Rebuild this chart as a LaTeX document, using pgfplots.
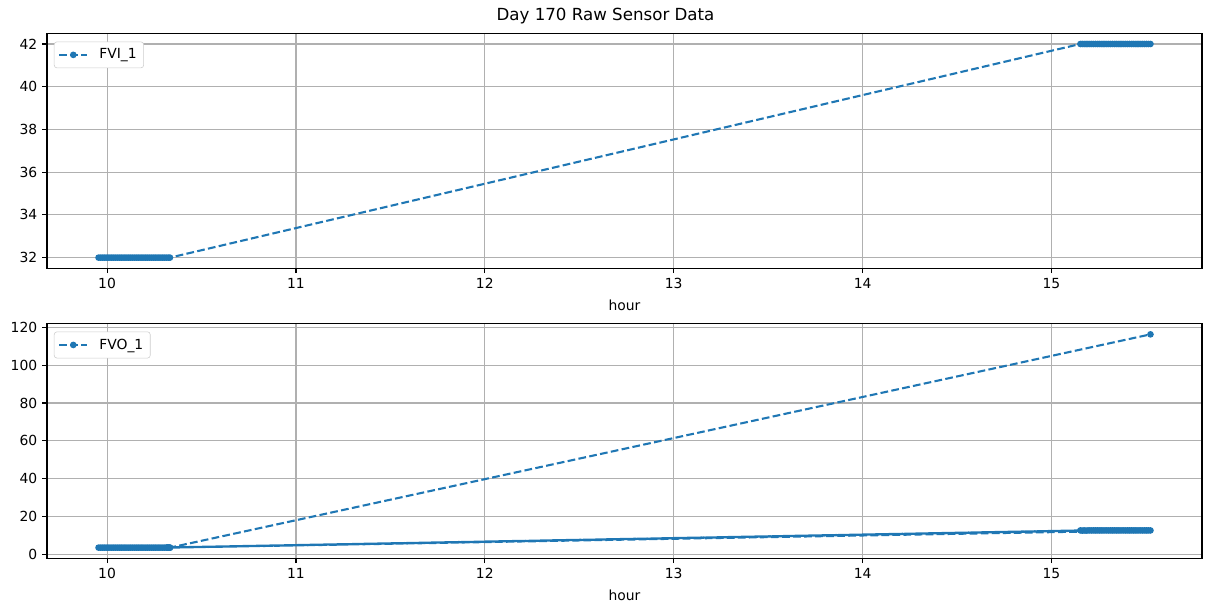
\documentclass[border=0pt]{standalone}
\usepackage{fontspec}
\setmainfont{DejaVu Sans}
\usepackage{pgfplots}
\pgfplotsset{compat=1.18}
\definecolor{mplblue}{HTML}{1F77B4}
\pgfplotsset{
  mystyle/.style={
    scale only axis, width=831.6pt, height=169.2pt,
    xmin=9.682, xmax=15.797,
    xtick={10,11,12,13,14,15},
    grid=major, grid style={color=black!31, line width=0.8pt},
    axis line style={line width=0.8pt},
    tick style={black, line width=0.8pt}, tick align=outside, major tick length=3.5pt,
    xtick pos=lower, ytick pos=left,
    tick label style={font=\fontsize{10}{12}\selectfont},
    /pgf/number format/assume math mode=true,
    xlabel={hour}, xlabel style={font=\fontsize{10}{12}\selectfont, yshift=-1pt},
    legend cell align=left,
    legend style={at={(0.006,0.965)}, anchor=north west, draw=black!20, rounded corners=2pt,
      font=\fontsize{10}{12}\selectfont, inner xsep=3pt, inner ysep=3pt},
    legend image code/.code={
      \draw[mark repeat=2, mark phase=2] plot coordinates {(0pt,0pt) (10pt,0pt) (20pt,0pt)};
      \path (26pt,0pt);
    },
  },
  myline/.style={color=mplblue, line width=1.5pt, dash pattern=on 5.55pt off 2.4pt,
    mark=*, mark size=1.6pt, mark options={solid}},
}
\pgfplotstableread{
x y
9.955 32
9.965 32
9.975 32
9.985 32
9.995 32
10.005 32
10.015 32
10.025 32
10.035 32
10.045 32
10.055 32
10.065 32
10.075 32
10.085 32
10.095 32
10.105 32
10.115 32
10.125 32
10.135 32
10.145 32
10.155 32
10.165 32
10.175 32
10.185 32
10.195 32
10.205 32
10.215 32
10.225 32
10.235 32
10.245 32
10.255 32
10.265 32
10.275 32
10.285 32
10.295 32
10.305 32
10.315 32
10.325 32
10.333 32
15.153 42
15.163 42
15.173 42
15.183 42
15.193 42
15.203 42
15.213 42
15.223 42
15.233 42
15.243 42
15.253 42
15.263 42
15.273 42
15.283 42
15.293 42
15.303 42
15.313 42
15.323 42
15.333 42
15.343 42
15.353 42
15.363 42
15.373 42
15.383 42
15.393 42
15.403 42
15.413 42
15.423 42
15.433 42
15.443 42
15.453 42
15.463 42
15.473 42
15.483 42
15.493 42
15.503 42
15.513 42
15.524 42
}\fvi
\pgfplotstableread{
x y
9.955 3.5
9.965 3.5
9.975 3.5
9.985 3.5
9.995 3.5
10.005 3.5
10.015 3.5
10.025 3.5
10.035 3.5
10.045 3.5
10.055 3.5
10.065 3.5
10.075 3.5
10.085 3.5
10.095 3.5
10.105 3.5
10.115 3.5
10.125 3.5
10.135 3.5
10.145 3.5
10.155 3.5
10.165 3.5
10.175 3.5
10.185 3.5
10.195 3.5
10.205 3.5
10.215 3.5
10.225 3.5
10.235 3.5
10.245 3.5
10.255 3.5
10.265 3.5
10.275 3.5
10.285 3.5
10.295 3.5
10.305 3.5
10.315 3.5
10.325 3.5
10.333 3.5
15.153 12.6
10.325 3.5
15.163 12.5
10.318 3.6
15.173 12.6
10.330 3.5
15.183 12.5
10.322 3.5
15.193 12.6
15.203 12.6
15.213 12.6
15.223 12.6
15.233 12.6
15.243 12.6
15.253 12.6
15.263 12.6
15.273 12.6
15.283 12.6
15.293 12.6
15.303 12.6
15.313 12.6
15.323 12.6
15.333 12.6
15.343 12.6
15.353 12.6
15.363 12.6
15.373 12.6
15.383 12.6
15.393 12.6
15.403 12.6
15.413 12.6
15.423 12.6
15.433 12.6
15.443 12.6
15.453 12.6
15.463 12.6
15.473 12.6
15.483 12.6
15.493 12.6
15.503 12.6
15.513 12.6
15.524 12.6
10.333 3.5
15.524 116.3
}\fvo
\begin{document}
\begin{tikzpicture}
\useasboundingbox (0pt,0pt) rectangle (871.92pt,439.92pt);
\node[font=\fontsize{12}{14}\selectfont] at (435.96pt,428.4pt) {Day 170 Raw Sensor Data};
\begin{axis}[mystyle, at={(33.84pt,246.74pt)}, anchor=south west,
  ymin=31.5, ymax=42.5, ytick={32,34,36,38,40,42}]
\addplot[myline] table[x=x, y=y] {\fvi};
\addlegendentry{FVI\_1}
\end{axis}
\begin{axis}[mystyle, at={(33.84pt,37.94pt)}, anchor=south west,
  ymin=-2.15, ymax=122.15, ytick={0,20,40,60,80,100,120}]
\addplot[myline] table[x=x, y=y] {\fvo};
\addlegendentry{FVO\_1}
\end{axis}
\end{tikzpicture}
\end{document}
